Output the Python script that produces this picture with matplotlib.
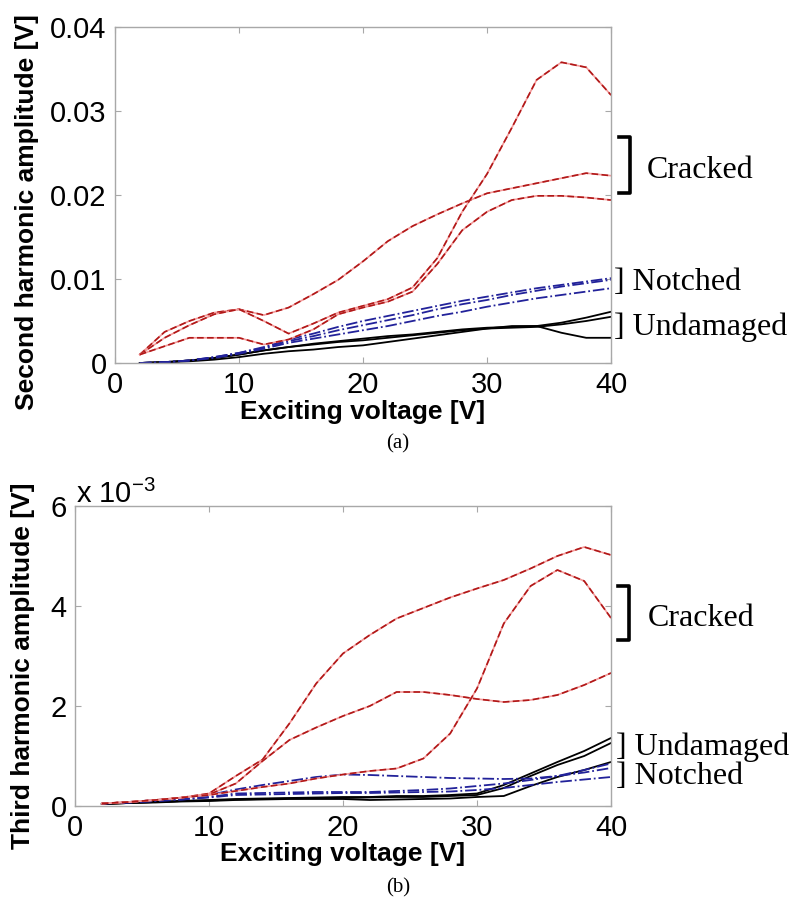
import numpy as np
import matplotlib
matplotlib.use('Agg')
import matplotlib.pyplot as plt
from matplotlib import ticker

# exciting voltage [V]
volts = [2, 4, 6, 8, 10, 12, 14, 16, 18, 20, 22, 24, 26, 28, 30, 32, 34, 36, 38, 40]

# (a) second harmonic amplitude [V]
second_cracked = [
    [0.001, 0.0037, 0.005, 0.006, 0.0064, 0.0057, 0.0066, 0.0082, 0.0099, 0.0121,
     0.0145, 0.0163, 0.0177, 0.019, 0.0202, 0.0208, 0.0214, 0.022, 0.0226, 0.0223],
    [0.001, 0.003, 0.0045, 0.0058, 0.0064, 0.005, 0.0035, 0.0047, 0.006, 0.0068,
     0.0076, 0.009, 0.0125, 0.018, 0.0225, 0.028, 0.0337, 0.0358, 0.0352, 0.0319],
    [0.001, 0.002, 0.003, 0.003, 0.003, 0.0022, 0.0028, 0.004, 0.0058, 0.0066,
     0.0073, 0.0085, 0.0118, 0.0158, 0.018, 0.0194, 0.0199, 0.0199, 0.0197, 0.0194],
]
second_notched = [
    [0.0, 0.0001, 0.0003, 0.0007, 0.0012, 0.0019, 0.0028, 0.0035, 0.0043, 0.005,
     0.0056, 0.0062, 0.0068, 0.0074, 0.0079, 0.0084, 0.0089, 0.0093, 0.0097, 0.0101],
    [0.0, 0.0001, 0.0003, 0.0007, 0.0012, 0.0018, 0.0026, 0.0032, 0.0039, 0.0045,
     0.0051, 0.0057, 0.0064, 0.007, 0.0075, 0.0081, 0.0086, 0.0091, 0.0095, 0.0099],
    [0.0, 0.0001, 0.0003, 0.0006, 0.0011, 0.0017, 0.0024, 0.0029, 0.0034, 0.0039,
     0.0044, 0.005, 0.0056, 0.0061, 0.0067, 0.0072, 0.0077, 0.0081, 0.0085, 0.0089],
]
second_undamaged = [
    [0.0, 0.0001, 0.0003, 0.0006, 0.001, 0.0015, 0.0019, 0.0023, 0.0026, 0.0029,
     0.0032, 0.0034, 0.0037, 0.004, 0.0042, 0.0043, 0.0044, 0.0048, 0.0054, 0.0061],
    [0.0, 0.0001, 0.0003, 0.0006, 0.001, 0.0015, 0.0019, 0.0022, 0.0025, 0.0027,
     0.003, 0.0033, 0.0036, 0.0039, 0.0041, 0.0042, 0.0043, 0.0046, 0.005, 0.0055],
    [0.0, 0.0001, 0.0002, 0.0004, 0.0007, 0.0011, 0.0014, 0.0016, 0.0019, 0.0021,
     0.0025, 0.0029, 0.0033, 0.0037, 0.0041, 0.0044, 0.0044, 0.0036, 0.003, 0.003],
]

# (b) third harmonic amplitude [x 10^-3 V]
third_cracked = [
    [0.05, 0.08, 0.12, 0.17, 0.25, 0.6, 0.93, 1.65, 2.45, 3.05,
     3.42, 3.75, 3.96, 4.17, 4.35, 4.52, 4.75, 5.0, 5.18, 5.02],
    [0.05, 0.08, 0.12, 0.17, 0.23, 0.45, 0.9, 1.32, 1.57, 1.8,
     2.0, 2.28, 2.28, 2.22, 2.14, 2.08, 2.12, 2.22, 2.42, 2.66],
    [0.05, 0.08, 0.12, 0.17, 0.22, 0.3, 0.38, 0.45, 0.55, 0.63,
     0.7, 0.75, 0.95, 1.45, 2.35, 3.65, 4.4, 4.72, 4.5, 3.76],
]
third_notched = [
    [0.05, 0.08, 0.12, 0.16, 0.22, 0.33, 0.42, 0.5, 0.58, 0.63,
     0.62, 0.6, 0.58, 0.56, 0.55, 0.54, 0.55, 0.6, 0.67, 0.76],
    [0.05, 0.07, 0.1, 0.13, 0.18, 0.25, 0.26, 0.27, 0.28, 0.28,
     0.28, 0.3, 0.32, 0.35, 0.4, 0.45, 0.52, 0.6, 0.72, 0.85],
    [0.05, 0.07, 0.1, 0.13, 0.17, 0.22, 0.23, 0.24, 0.25, 0.26,
     0.26, 0.27, 0.28, 0.29, 0.32, 0.36, 0.42, 0.48, 0.53, 0.58],
]
third_undamaged = [
    [0.04, 0.06, 0.08, 0.1, 0.12, 0.14, 0.15, 0.16, 0.17, 0.18,
     0.18, 0.2, 0.2, 0.22, 0.25, 0.42, 0.65, 0.88, 1.1, 1.36],
    [0.04, 0.06, 0.08, 0.1, 0.11, 0.13, 0.14, 0.15, 0.16, 0.16,
     0.17, 0.18, 0.18, 0.2, 0.22, 0.36, 0.6, 0.82, 1.0, 1.26],
    [0.04, 0.06, 0.07, 0.09, 0.1, 0.12, 0.13, 0.14, 0.14, 0.14,
     0.12, 0.13, 0.14, 0.15, 0.18, 0.2, 0.4, 0.58, 0.72, 0.88],
]

W, H = 800, 898
SANS = 'Liberation Sans'
SERIF = 'Liberation Serif'

fig = plt.figure(figsize=(W / 100, H / 100), dpi=100)


def px(x, y):
    return x / W, 1 - y / H


def style_axes(ax):
    for s in ax.spines.values():
        s.set_color('#a8a8a8')
        s.set_linewidth(1.0)
    ax.tick_params(direction='in', length=4, width=0.8, color='#a8a8a8',
                   top=True, right=True, labelsize=21, pad=6)
    for lab in ax.get_xticklabels() + ax.get_yticklabels():
        lab.set_fontfamily(SANS)


def draw(ax, cracked, notched, undamaged):
    for ys in undamaged:
        ax.plot(volts, ys, color='black', lw=1.3, ls='-')
    for ys in notched:
        ax.plot(volts, ys, color='#f0a0a0', lw=0.0)
        ax.plot(volts, ys, color='#22229a', lw=1.3, ls='-.')
    for ys in cracked:
        ax.plot(volts, ys, color='#f49a9a', lw=1.2, ls='-')
        ax.plot(volts, ys, color='#b01818', lw=1.2, ls=(0, (4, 2)))


def bracket(x, y0, y1):
    xa, ya = px(x, y0)
    xb, yb = px(x, y1)
    xl, _ = px(x - 11, y0)
    fig.add_artist(plt.Line2D([xl, xa, xb, xl], [ya, ya, yb, yb], color='black',
                              lw=2.6, transform=fig.transFigure))


# (a)
x0, y0 = px(115, 363)
x1, y1 = px(611, 27)
ax1 = fig.add_axes([x0, y0, x1 - x0, y1 - y0])
draw(ax1, second_cracked, second_notched, second_undamaged)
ax1.set_xlim(0, 40)
ax1.set_ylim(0, 0.04)
ax1.set_xticks([0, 10, 20, 30, 40])
ax1.set_yticks([0, 0.01, 0.02, 0.03, 0.04])
ax1.yaxis.set_major_formatter(ticker.FuncFormatter(lambda v, p: '0' if v == 0 else f'{v:g}'))
style_axes(ax1)

fig.text(*px(363, 412), 'Exciting voltage [V]', ha='center', va='center',
         fontsize=19, fontweight='bold', family=SANS)
fig.text(*px(27, 212), 'Second harmonic amplitude [V]', ha='center', va='center',
         rotation=90, fontsize=19, fontweight='bold', family=SANS)
fig.text(*px(398, 444), '(a)', ha='center', va='center', fontsize=15, family=SERIF)

bracket(630, 137, 193)
fig.text(*px(647, 170), 'Cracked', ha='left', va='center', fontsize=23, family=SERIF)
fig.text(*px(614, 282), '] Notched', ha='left', va='center', fontsize=23, family=SERIF)
fig.text(*px(614, 327), '] Undamaged', ha='left', va='center', fontsize=23, family=SERIF)

# (b)
x0, y0 = px(75, 806)
x1, y1 = px(611, 506)
ax2 = fig.add_axes([x0, y0, x1 - x0, y1 - y0])
draw(ax2, third_cracked, third_notched, third_undamaged)
ax2.set_xlim(0, 40)
ax2.set_ylim(0, 6)
ax2.set_xticks([0, 10, 20, 30, 40])
ax2.set_yticks([0, 2, 4, 6])
style_axes(ax2)
fig.text(*px(76, 494), 'x 10$^{\\mathregular{-3}}$', ha='left', va='center',
         fontsize=21, family=SANS)

fig.text(*px(343, 854), 'Exciting voltage [V]', ha='center', va='center',
         fontsize=19, fontweight='bold', family=SANS)
fig.text(*px(23, 666), 'Third harmonic amplitude [V]', ha='center', va='center',
         rotation=90, fontsize=19, fontweight='bold', family=SANS)
fig.text(*px(398, 888), '(b)', ha='center', va='center', fontsize=15, family=SERIF)

bracket(629, 586, 640)
fig.text(*px(648, 619), 'Cracked', ha='left', va='center', fontsize=23, family=SERIF)
fig.text(*px(616, 747), '] Undamaged', ha='left', va='center', fontsize=23, family=SERIF)
fig.text(*px(616, 777), '] Notched', ha='left', va='center', fontsize=23, family=SERIF)

fig.savefig('out.png', dpi=100)
